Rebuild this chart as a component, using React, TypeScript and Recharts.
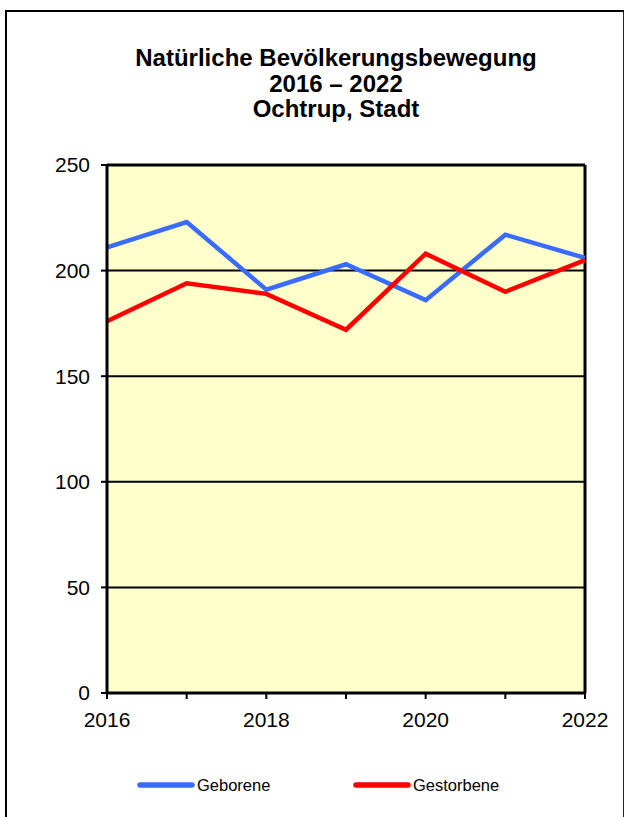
import React from 'react'
import { LineChart, Line, XAxis, YAxis, CartesianGrid, ReferenceLine } from 'recharts'

const years = [2016, 2017, 2018, 2019, 2020, 2021, 2022]
const geborene = [211, 223, 191, 203, 186, 217, 206]
const gestorbene = [176, 194, 189, 172, 208, 190, 205]
const xTickLabels = ['2016', '2018', '2020', '2022']
const yTicks = [0, 50, 100, 150, 200, 250]
const seriesNames = ['Geborene', 'Gestorbene']
const seriesColors = ['#3A6BFF', '#FF0000']
const titleLines = ['Natürliche Bevölkerungsbewegung', '2016 – 2022', 'Ochtrup, Stadt']

const font = '"Liberation Sans", Arial, sans-serif'

export default function App() {
  const data = years.map((year, i) => ({
    year,
    Geborene: geborene[i],
    Gestorbene: gestorbene[i],
  }))

  return (
    <div style={{ position: 'absolute', left: 0, top: 0, width: 625, height: 817, overflow: 'hidden', background: '#fff', fontFamily: font }}>
      {/* Rahmen */}
      <div
        style={{
          position: 'absolute', left: 5, top: 10, width: 616, height: 840,
          borderLeft: '2px solid #000', borderTop: '2px solid #000', borderRight: '1px solid #222',
        }}
      />

      {/* Titel */}
      <div
        style={{
          position: 'absolute', left: 36, top: 45, width: 600, textAlign: 'center',
          fontSize: 24, fontWeight: 'bold', lineHeight: '25.7px', color: '#000',
        }}
      >
        {titleLines.map((t) => (
          <div key={t}>{t}</div>
        ))}
      </div>

      <div style={{ position: 'absolute', left: 0, top: 0 }}>
        <LineChart width={625} height={817} data={data} margin={{ top: 165, right: 40, left: 47, bottom: 94 }}>
          <CartesianGrid vertical={false} stroke="#000" strokeWidth={2} fill="#FFFFCC" fillOpacity={1} />
          <XAxis
            dataKey="year"
            type="number"
            domain={[2016, 2022]}
            ticks={years}
            interval={0}
            height={30}
            tickSize={6}
            tickMargin={13}
            tickFormatter={(v) => (xTickLabels.includes(String(v)) ? String(v) : '')}
            axisLine={{ stroke: '#000', strokeWidth: 3 }}
            tickLine={{ stroke: '#000', strokeWidth: 2 }}
            tick={{ fill: '#000', fontSize: 21, fontFamily: font }}
          />
          <YAxis
            domain={[0, 250]}
            ticks={yTicks}
            interval={0}
            width={60}
            tickSize={6}
            tickMargin={11}
            axisLine={{ stroke: '#000', strokeWidth: 3 }}
            tickLine={{ stroke: '#000', strokeWidth: 2 }}
            tick={{ fill: '#000', fontSize: 21, fontFamily: font }}
          />
          <ReferenceLine y={250} stroke="#000" strokeWidth={3} />
          <ReferenceLine x={2022} stroke="#000" strokeWidth={3} />
          <Line type="linear" dataKey="Geborene" stroke={seriesColors[0]} strokeWidth={4.5} dot={false} isAnimationActive={false} />
          <Line type="linear" dataKey="Gestorbene" stroke={seriesColors[1]} strokeWidth={4.5} dot={false} isAnimationActive={false} />
        </LineChart>
      </div>

      {/* Legende */}
      {seriesNames.map((name, i) => (
        <div key={name} style={{ position: 'absolute', left: i === 0 ? 137 : 353, top: 775, height: 20, display: 'flex', alignItems: 'center' }}>
          <svg width={58} height={20}>
            <line x1={3} y1={10} x2={55} y2={10} stroke={seriesColors[i]} strokeWidth={5.5} strokeLinecap="round" />
          </svg>
          <span style={{ fontSize: 16.5, color: '#000', marginLeft: 2 }}>{name}</span>
        </div>
      ))}
    </div>
  )
}
